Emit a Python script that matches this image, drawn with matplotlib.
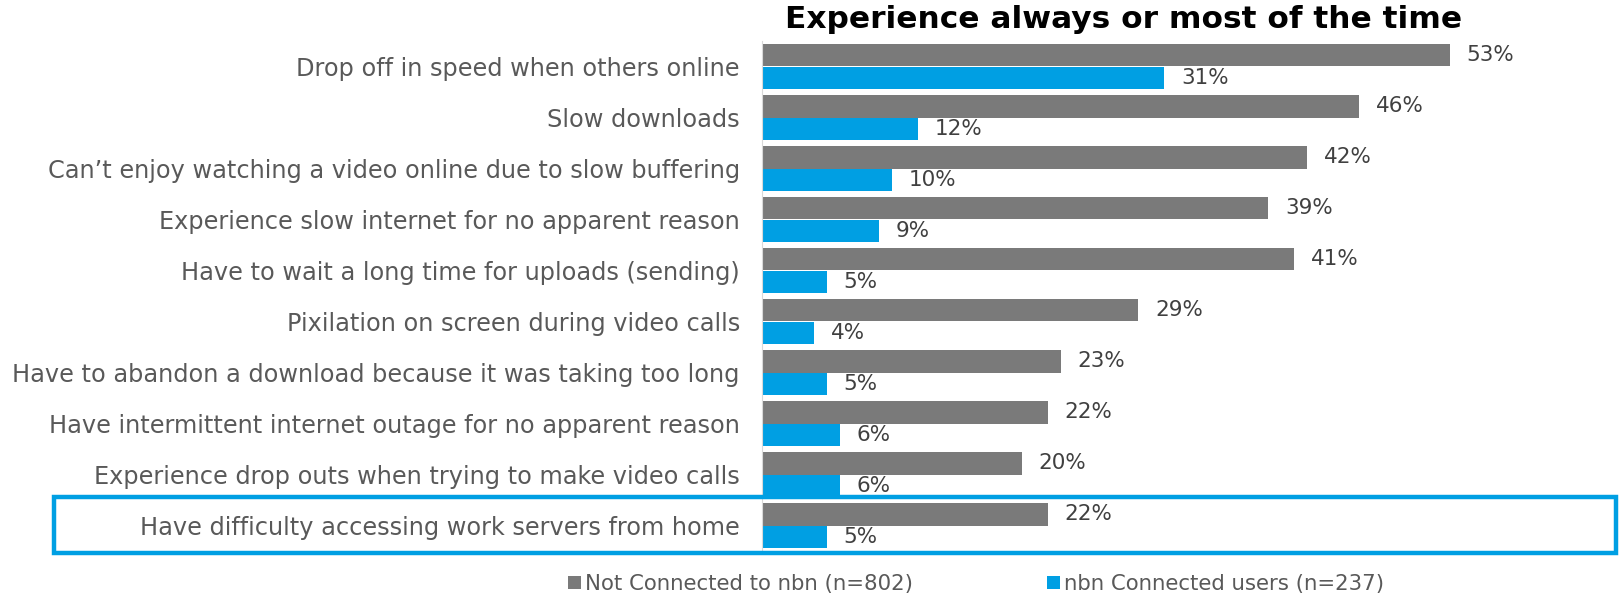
import matplotlib.pyplot as plt
from matplotlib.patches import Rectangle
from matplotlib.transforms import blended_transform_factory

# Data
categories = [
    "Drop off in speed when others online",
    "Slow downloads",
    "Can\u2019t enjoy watching a video online due to slow buffering",
    "Experience slow internet for no apparent reason",
    "Have to wait a long time for uploads (sending)",
    "Pixilation on screen during video calls",
    "Have to abandon a download because it was taking too long",
    "Have intermittent internet outage for no apparent reason",
    "Experience drop outs when trying to make video calls",
    "Have difficulty accessing work servers from home",
]
not_connected = [53, 46, 42, 39, 41, 29, 23, 22, 20, 22]
nbn_connected = [31, 12, 10, 9, 5, 4, 5, 6, 6, 5]
series_names = ["Not Connected to nbn (n=802)", "nbn Connected users (n=237)"]

gray = "#7a7a7a"
blue = "#009fe3"
text_col = "#595959"

fig = plt.figure(figsize=(16.2, 5.95), dpi=100)
ax = fig.add_axes([762 / 1620, 1 - 551 / 595, 1 - 762 / 1620, 510 / 595])

h = 0.445
ys = list(range(len(categories)))
b1 = ax.barh([y - h / 2 for y in ys], not_connected, height=h, color=gray, label=series_names[0])
b2 = ax.barh([y + h / 2 for y in ys], nbn_connected, height=h, color=blue, label=series_names[1])

# value labels
for y, v in zip(ys, not_connected):
    ax.annotate(f"{v}%", (v, y - h / 2), xytext=(12, 0), textcoords="offset points",
                va="center", ha="left", fontsize=15.5, color="#404040")
for y, v in zip(ys, nbn_connected):
    ax.annotate(f"{v}%", (v, y + h / 2), xytext=(12, 0), textcoords="offset points",
                va="center", ha="left", fontsize=15.5, color="#404040")

ax.set_xlim(0, (1620 - 762) / 12.98)
ax.set_ylim(9.5, -0.5)
ax.set_yticks(ys)
ax.set_yticklabels(categories, fontsize=17.3, color=text_col)
ax.tick_params(axis="y", length=0, pad=16)
ax.set_xticks([])
for s in ["top", "right", "bottom"]:
    ax.spines[s].set_visible(False)
ax.spines["left"].set_color("#d9d9d9")

fig.text(1124 / 1620, 1 - 19 / 595, "Experience always or most of the time",
         ha="center", va="center", fontsize=22.5, fontweight="bold", color="black")

# highlight box around last category
tr = blended_transform_factory(fig.transFigure, ax.transData)
box = Rectangle((54 / 1620, 8.44), 1562 / 1620, 1.1, transform=tr, fill=False,
                edgecolor=blue, linewidth=3.2, clip_on=False)
fig.add_artist(box)

leg = fig.legend(handles=[b1, b2], loc="center", bbox_to_anchor=(976 / 1620, 1 - 584 / 595),
                 ncol=2, frameon=False, fontsize=15.3, handlelength=0.6, handleheight=0.6,
                 handletextpad=0.2, columnspacing=6.3)
for t in leg.get_texts():
    t.set_color(text_col)

fig.savefig("out.png", dpi=100)
